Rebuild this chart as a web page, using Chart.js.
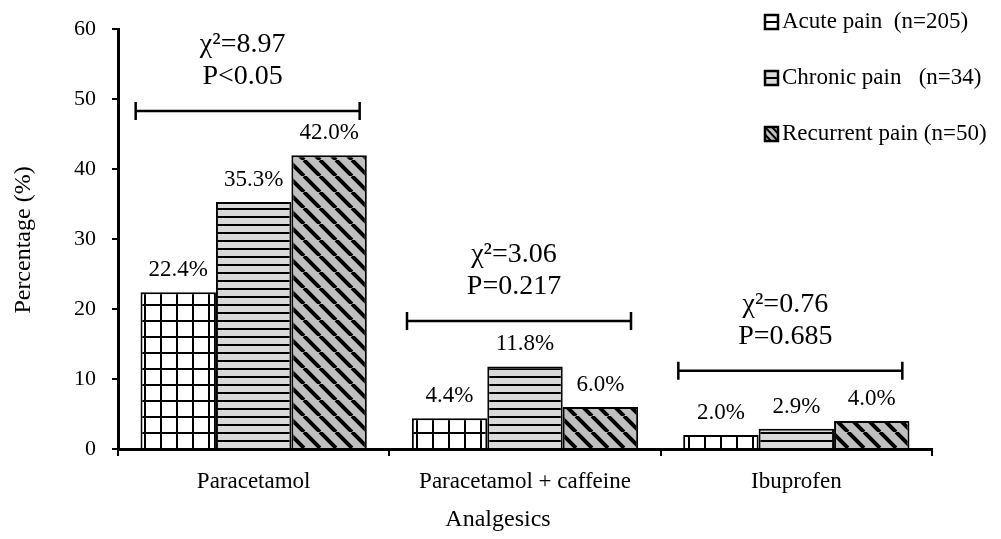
<!DOCTYPE html>
<html><head><meta charset="utf-8">
<script src="https://cdn.jsdelivr.net/npm/chart.js@4.4.1/dist/chart.umd.min.js"></script>
<style>html,body{margin:0;padding:0;background:#fff}canvas{display:block}</style>
</head><body>
<canvas id="c" width="1001" height="539"></canvas>
<script>
const categories = ['Paracetamol', 'Paracetamol + caffeine', 'Ibuprofen'];
const seriesNames = ['Acute pain  (n=205)', 'Chronic pain   (n=34)', 'Recurrent pain (n=50)'];
const acute = [22.4, 4.4, 2.0];
const chronic = [35.3, 11.8, 2.9];
const recurrent = [42.0, 6.0, 4.0];
const chiLabels = ['χ²=8.97', 'χ²=3.06', 'χ²=0.76'];
const pLabels = ['P<0.05', 'P=0.217', 'P=0.685'];
const bracketLevels = [48.3, 18.3, 11.2];
const yTickValues = [0, 10, 20, 30, 40, 50, 60];
const xTitle = 'Analgesics';
const yTitle = 'Percentage (%)';

const FONT = "'Liberation Serif', 'Times New Roman', serif";

function makePattern(kind) {
  const c = document.createElement('canvas');
  const g = c.getContext('2d');
  if (kind === 'grid') {
    c.width = 16; c.height = 16;
    g.fillStyle = '#ffffff'; g.fillRect(0, 0, 16, 16);
    g.fillStyle = '#000'; g.fillRect(0, 0, 2, 16); g.fillRect(0, 0, 16, 2);
  } else if (kind === 'hline') {
    c.width = 8; c.height = 8;
    g.fillStyle = '#d9d9d9'; g.fillRect(0, 0, 8, 8);
    g.fillStyle = '#000'; g.fillRect(0, 0, 8, 2);
  } else {
    c.width = 16; c.height = 16;
    g.fillStyle = '#bfbfbf'; g.fillRect(0, 0, 16, 16);
    g.strokeStyle = '#000'; g.lineWidth = 4;
    for (const x0 of [-16, 0, 16]) {
      g.beginPath(); g.moveTo(x0, 0); g.lineTo(x0 + 16, 16); g.stroke();
    }
  }
  return g.createPattern(c, 'repeat');
}

const patterns = [makePattern('grid'), makePattern('hline'), makePattern('diag')];
const legendFills = ['#ffffff', '#d9d9d9', '#bfbfbf'];

const annot = {
  id: 'annot',
  afterDatasetsDraw(chart) {
    const { ctx, scales: { x, y } } = chart;
    ctx.save();
    ctx.fillStyle = '#000';
    ctx.textAlign = 'center';
    ctx.textBaseline = 'middle';
    // value labels
    ctx.font = '23px ' + FONT;
    chart.data.datasets.forEach((ds, di) => {
      const meta = chart.getDatasetMeta(di);
      meta.data.forEach((el, i) => {
        ctx.fillText(ds.data[i].toFixed(1) + '%', el.x, el.y - 22);
      });
    });
    // brackets and stats
    categories.forEach((c, i) => {
      const cx = x.getPixelForValue(i);
      const x1 = cx - 118, x2 = cx + 106;
      const by = y.getPixelForValue(bracketLevels[i]);
      ctx.strokeStyle = '#000';
      ctx.lineWidth = 2.5;
      ctx.beginPath();
      ctx.moveTo(x1, by); ctx.lineTo(x2, by);
      ctx.moveTo(x1, by - 9); ctx.lineTo(x1, by + 9);
      ctx.moveTo(x2, by - 9); ctx.lineTo(x2, by + 9);
      ctx.stroke();
      const tx = (x1 + x2) / 2 - 5;
      ctx.font = '28px ' + FONT;
      ctx.fillText(chiLabels[i], tx, by - 66);
      ctx.fillText(pLabels[i], tx, by - 34);
    });
    // legend
    const ly = [22, 78, 134];
    seriesNames.forEach((n, i) => {
      const bx = 765, bw = 13, bh = 14, byy = ly[i] - 7;
      ctx.fillStyle = legendFills[i];
      ctx.fillRect(bx, byy, bw, bh);
      ctx.save();
      ctx.beginPath(); ctx.rect(bx, byy, bw, bh); ctx.clip();
      ctx.strokeStyle = '#000';
      ctx.lineWidth = 2;
      ctx.beginPath();
      if (i < 2) { ctx.moveTo(bx, ly[i]); ctx.lineTo(bx + bw, ly[i]); }
      else { ctx.moveTo(bx, byy); ctx.lineTo(bx + bw, byy + bh); ctx.moveTo(bx - 7, byy); ctx.lineTo(bx + bw - 7, byy + bh); ctx.moveTo(bx + 7, byy); ctx.lineTo(bx + bw + 7, byy + bh); }
      ctx.stroke();
      ctx.restore();
      ctx.strokeStyle = '#000';
      ctx.lineWidth = 2.5;
      ctx.strokeRect(bx, byy, bw, bh);
      ctx.fillStyle = '#000';
      ctx.textAlign = 'left';
      ctx.font = '23px ' + FONT;
      ctx.fillText(n, 782, ly[i]);
    });
    // axis titles
    ctx.textAlign = 'center';
    ctx.font = '24px ' + FONT;
    ctx.fillText(xTitle, 498, 520);
    ctx.save();
    ctx.translate(24, 240);
    ctx.rotate(-Math.PI / 2);
    ctx.fillText(yTitle, 0, 0);
    ctx.restore();
    ctx.restore();
  }
};

new Chart(document.getElementById('c'), {
  type: 'bar',
  data: {
    labels: categories,
    datasets: [
      { label: seriesNames[0], data: acute, backgroundColor: patterns[0], borderColor: '#000', borderWidth: 2 },
      { label: seriesNames[1], data: chronic, backgroundColor: patterns[1], borderColor: '#000', borderWidth: 2 },
      { label: seriesNames[2], data: recurrent, backgroundColor: patterns[2], borderColor: '#000', borderWidth: 2 }
    ]
  },
  options: {
    responsive: false,
    animation: false,
    layout: { padding: { left: 0, right: 69, top: 23, bottom: 0 } },
    datasets: { bar: { categoryPercentage: 0.834, barPercentage: 1 } },
    plugins: { legend: { display: false }, tooltip: { enabled: false } },
    scales: {
      x: {
        grid: { offset: true, drawOnChartArea: false, drawTicks: true, tickLength: 7, color: '#000', lineWidth: 2 },
        border: { color: '#000', width: 3 },
        ticks: { color: '#000', font: { family: FONT, size: 23 }, padding: 12, maxRotation: 0 },
        afterFit(s) { s.height = 90; }
      },
      y: {
        min: 0, max: 60,
        afterBuildTicks(s) { s.ticks = yTickValues.map(v => ({ value: v })); },
        grid: { drawOnChartArea: false, drawTicks: true, tickLength: 6, color: '#000', lineWidth: 2 },
        border: { color: '#000', width: 3 },
        ticks: { color: '#000', font: { family: FONT, size: 22 }, padding: 16 },
        afterFit(s) { s.width = 118; }
      }
    }
  },
  plugins: [annot]
});
</script>
</body></html>
